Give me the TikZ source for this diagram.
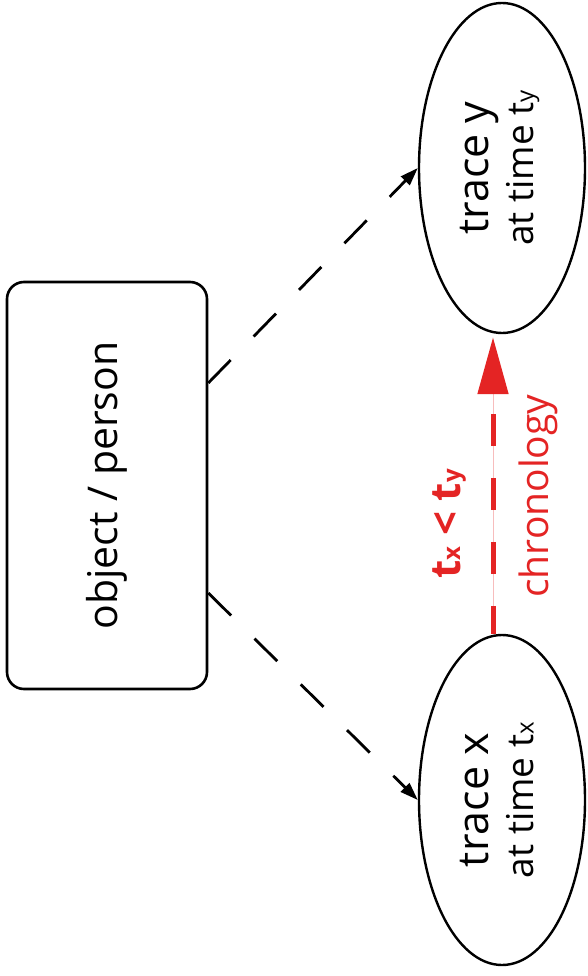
\documentclass[tikz,border=0pt]{standalone}
\usepackage{fontspec}
\setmainfont{Open Sans}
\usetikzlibrary{shapes.geometric,arrows.meta,calc}
\definecolor{chronored}{RGB}{228,36,36}
\newcommand\smallsub[1]{{\fontsize{24}{24}\selectfont #1}}
\newcommand\twolines[2]{\rotatebox{90}{\fontsize{37}{45}\selectfont
  \begin{tabular}{@{}c@{}}{\fontsize{43}{45}\selectfont #1}\\ #2\end{tabular}}}
\begin{document}
\begin{tikzpicture}[x=1pt,y=-1pt,
  every node/.style={inner sep=0pt},
  entity/.style={draw,line width=2.6pt,rounded corners=17pt,
    minimum width=200pt,minimum height=407pt,font=\fontsize{41}{48}\selectfont},
  trace/.style={draw,ellipse,line width=2.4pt,minimum width=166pt,minimum height=330pt},
  link/.style={line width=2.8pt,dash pattern=on 32pt off 33pt,
    -{Triangle[length=18pt,width=12pt]}},
  chrono/.style={chronored,line width=5pt,dash pattern=on 32pt off 32pt,dash phase=4pt,
    -{Triangle[length=57pt,width=30pt]}},
  guide/.style={chronored!30,line width=0.8pt},
  redlabel/.style={text=chronored,rotate=90,anchor=base}]
\useasboundingbox (0,0) rectangle (588,976);
\fill[white] (0,0) rectangle (588,976);

% source entity
\node[entity] (obj) at (107,485.5) {\rotatebox{90}{object / person}};

% the two traces
\node[trace] (ty) at (502,168) {\twolines{trace y}{at time t\smallsub{y}}};
\node[trace] (tx) at (502,800) {\twolines{trace x}{at time t\smallsub{x}}};

% the entity leaves both traces
\draw[link] ($(obj.east)+(0,-102.5)$) -- (ty.west);
\draw[link] ($(obj.east)+(0,107.5)$) -- (tx.west);

% chronological order between the traces
\coordinate (cx) at ($(tx.north)+(-9,0)$);
\coordinate (cy) at ($(ty.south)+(-9,3)$);
\draw[guide] (cx) -- ($(cy)+(0,57)$);
\draw[chrono] (cx) -- (cy);
\node[redlabel,font=\fontsize{42}{42}\selectfont\bfseries] (ord) at (460,524)
  {t\smallsub{x} < t\smallsub{y}};
\node[redlabel,font=\fontsize{39}{39}\selectfont] (chr) at (548,496) {chronology};
\end{tikzpicture}
\end{document}
